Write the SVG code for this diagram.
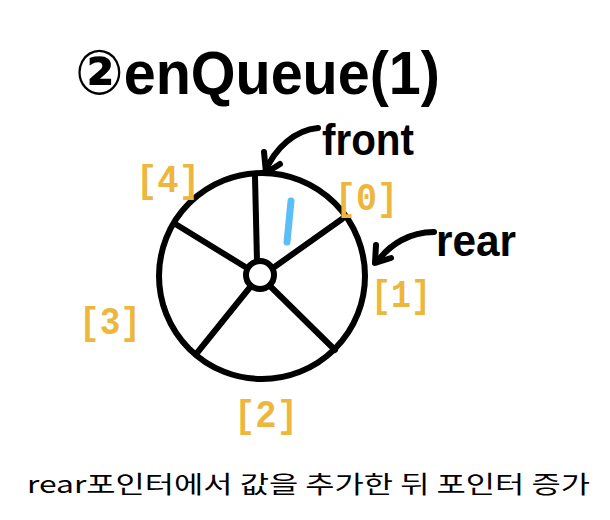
<svg xmlns="http://www.w3.org/2000/svg" width="610" height="520" viewBox="0 0 610 520">
<defs>
<style>
.ink{fill:none;stroke:#000;stroke-width:6;stroke-linecap:round;stroke-linejoin:round}
.hand{font-family:"Liberation Sans","DejaVu Sans",sans-serif;font-weight:bold;fill:#000}
.idx{font-family:"Liberation Mono","DejaVu Sans Mono",monospace;font-weight:bold;fill:#EDB63C;font-size:38px}
</style>
</defs>
<rect width="610" height="520" fill="#fff"/>
<g id="title"><text class="hand" x="75" y="94" font-size="62" textLength="365" lengthAdjust="spacingAndGlyphs">②enQueue(1)</text></g>
<g id="wheel">
<circle class="ink" cx="262" cy="276" r="103"/>
<circle class="ink" cx="260" cy="275" r="14" stroke-width="5"/>
</g>
<g id="connectors">
<line class="ink" x1="257" y1="261" x2="255" y2="177"/>
<line class="ink" x1="273" y1="268" x2="342" y2="219"/>
<line class="ink" x1="247" y1="268" x2="177" y2="225"/>
<line class="ink" x1="251" y1="286" x2="197" y2="353"/>
<line class="ink" x1="270" y1="286" x2="335" y2="350"/>
<path class="ink" d="M318,128 C295,130 275,148 265,172"/>
<path class="ink" d="M264,152 L266,173 L280,164"/>
<path class="ink" d="M434,232 C410,232 390,244 377,262"/>
<path class="ink" d="M376,245 L375,263 L391,258"/>
</g>
<g id="front-label"><text class="hand" x="322" y="155" font-size="44" textLength="92" lengthAdjust="spacingAndGlyphs">front</text></g>
<g id="rear-label"><text class="hand" x="436" y="256" font-size="44" textLength="80" lengthAdjust="spacingAndGlyphs">rear</text></g>
<g id="value"><line x1="291" y1="201" x2="287" y2="242" stroke="#5BBEF5" stroke-width="7" stroke-linecap="round"/></g>
<g id="idx4"><text class="idx" x="136" y="192" textLength="64" lengthAdjust="spacingAndGlyphs">[4]</text></g>
<g id="idx0"><text class="idx" x="335" y="210" textLength="63" lengthAdjust="spacingAndGlyphs">[0]</text></g>
<g id="idx1"><text class="idx" x="371" y="307" textLength="60" lengthAdjust="spacingAndGlyphs">[1]</text></g>
<g id="idx3"><text class="idx" x="79" y="334" textLength="62" lengthAdjust="spacingAndGlyphs">[3]</text></g>
<g id="idx2"><text class="idx" x="234" y="427" textLength="64" lengthAdjust="spacingAndGlyphs">[2]</text></g>
<g id="caption"><text x="27" y="493" font-family="'Noto Sans CJK KR','Noto Sans',sans-serif" font-size="24" fill="#000" textLength="563" lengthAdjust="spacingAndGlyphs">rear포인터에서 값을 추가한 뒤 포인터 증가</text></g>
</svg>
